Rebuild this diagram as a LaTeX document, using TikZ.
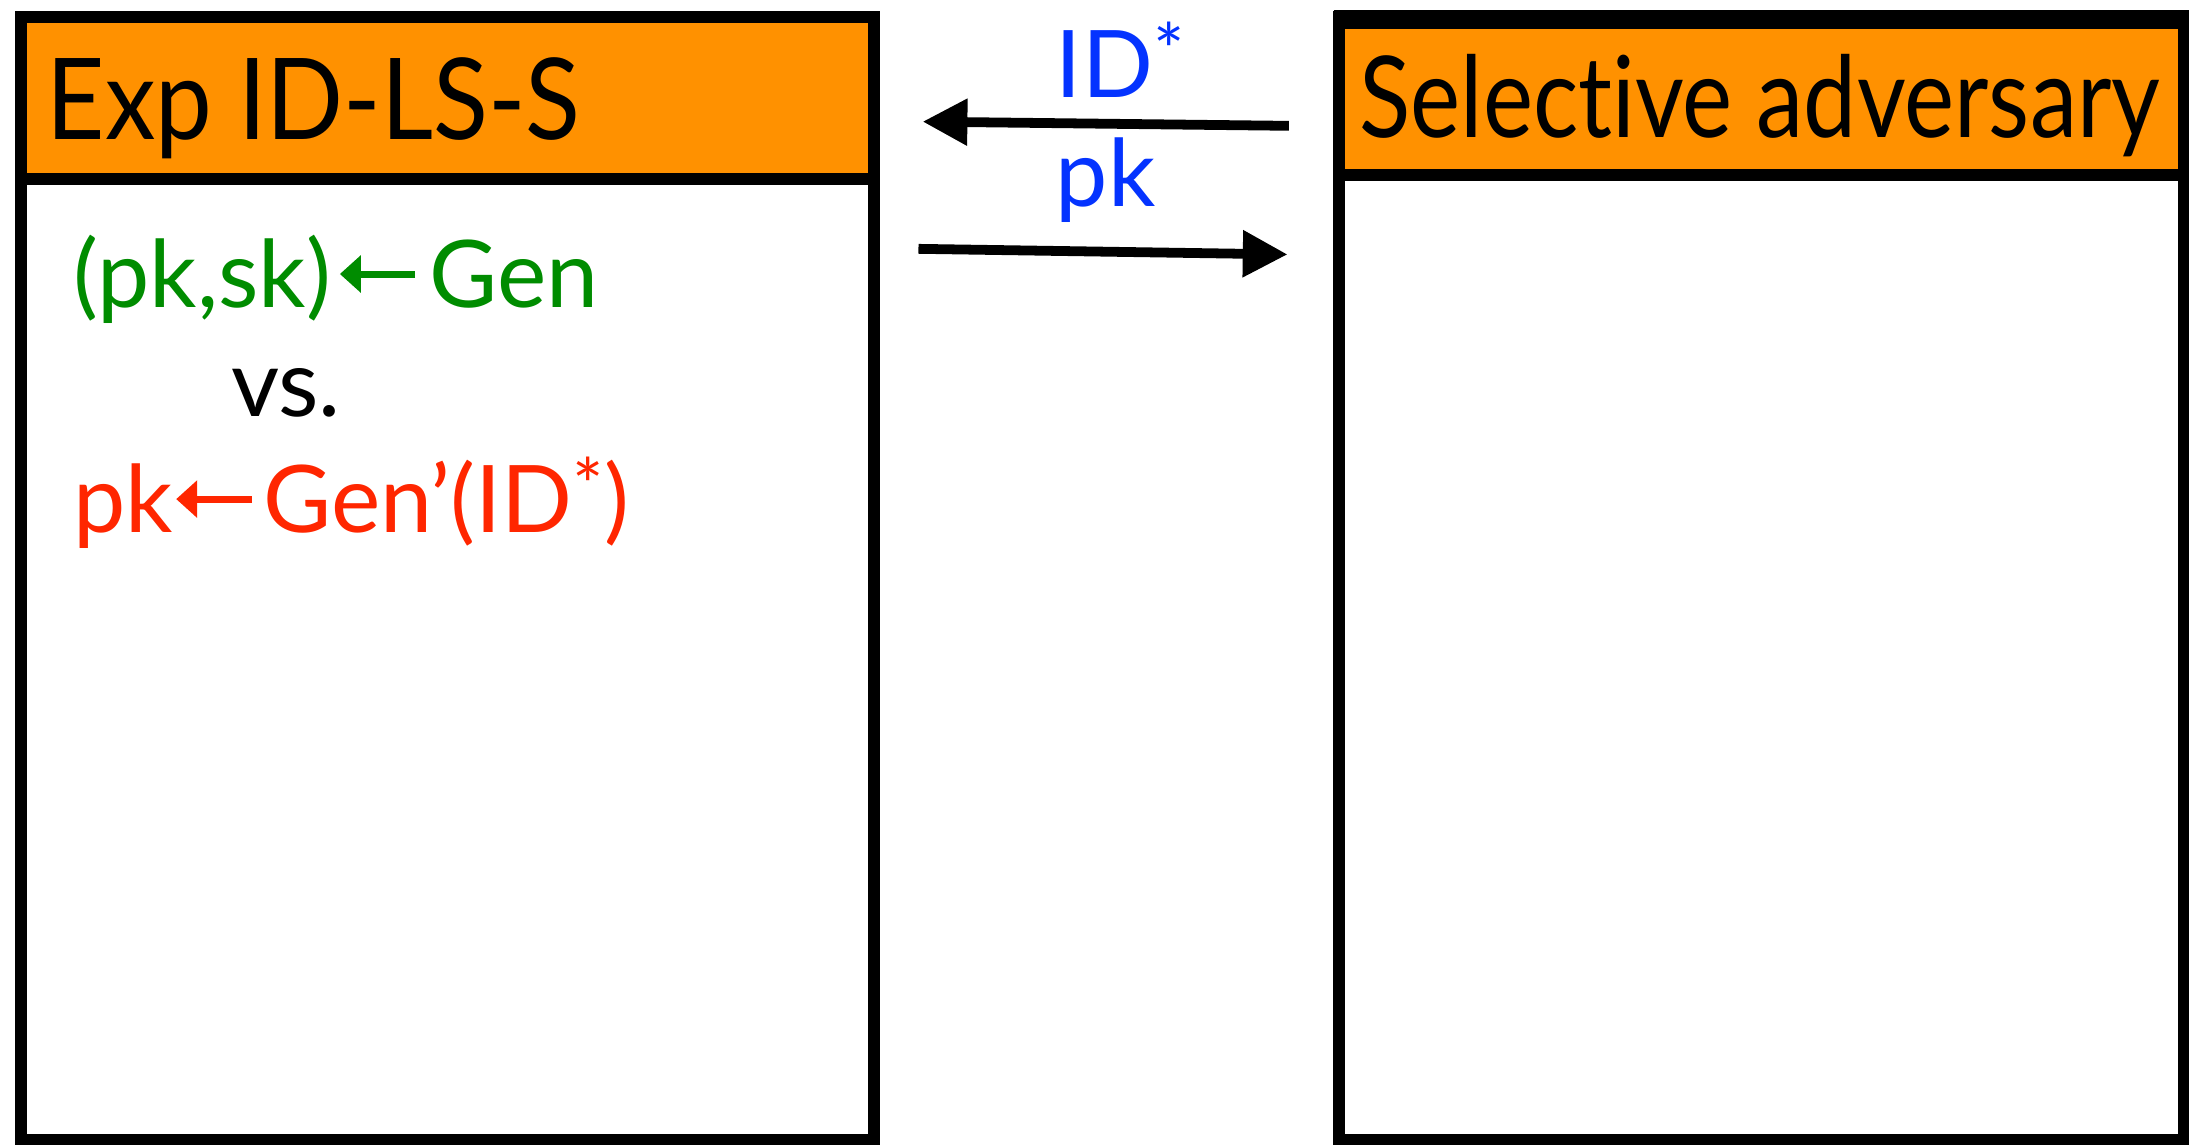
\documentclass[tikz,border=0pt]{standalone}
\usepackage{fontspec}
\setmainfont[Ligatures=NoCommon]{Lato}
\usetikzlibrary{arrows.meta}
\definecolor{hdr}{RGB}{255,145,0}
\definecolor{kgreen}{RGB}{0,140,0}
\definecolor{kblue}{RGB}{4,51,255}
\definecolor{kred}{RGB}{255,38,0}
\newcommand{\myast}{\raisebox{0.22em}{\fontsize{30}{30}\selectfont *}}
\newcommand{\fitw}[2]{\resizebox{#1}{\height}{#2}}
\begin{document}
\begin{tikzpicture}[x=0.02cm,y=-0.02cm,
  frame/.style={line width=0.165cm},
  msg/.style={line width=0.14cm,-{Triangle[length=0.64cm,width=0.64cm]}},
  small arrow/.style={line width=0.1cm,-{Triangle[length=0.3cm,width=0.52cm]}},
  title/.style={inner sep=0pt,anchor=base west,font=\fontsize{46}{50}\selectfont},
  body/.style={inner sep=0pt,anchor=base west,font=\fontsize{38}{42}\selectfont}]
\useasboundingbox (0,0) rectangle (1568,819);
% left box
\fill[hdr] (15,12) rectangle (625,128);
\draw[frame] (15,12) rectangle (625,815);
\draw[frame] (15,128) -- (625,128);
\node[title] (exp) at (33,100) {\fitw{7.64cm}{Exp ID-LS-S}};
% right box
\fill[hdr] (958,14) rectangle (1562,125);
\draw[frame] (958,12) rectangle (1562,815);
\draw[line width=0.26cm] (954,14) -- (1566,14);
\draw[frame] (958,125) -- (1562,125);
\node[title] (adv) at (972,98) {\fitw{11.46cm}{Selective adversary}};
% messages
\coordinate (a1s) at (922,90);
\coordinate (a1e) at (660,87);
\coordinate (a2s) at (657,178);
\coordinate (a2e) at (921,182);
\draw[msg] (a1s) -- (a1e);
\draw[msg] (a2s) -- (a2e);
\node[body,text=kblue] (id) at (755,70) {ID\myast};
\node[body,text=kblue] (pk) at (755,148) {pk};
% green line
\node[body,text=kgreen] (pksk) at (52,220) {(pk,sk)};
\node[body,text=kgreen] (gen) at (307,220) {Gen};
\draw[small arrow,kgreen] (gen.west|-0,196) ++(-10,0) -- ([xshift=0.12cm]pksk.east|-0,196);
% vs
\node[body] (vs) at (165,298) {vs.};
% red line
\node[body,text=kred] (pk2) at (52,381) {pk};
\node[body,text=kred] (gen2) at (188,381) {Gen’(ID\myast)};
\draw[small arrow,kred] (gen2.west|-0,357) ++(-8,0) -- ([xshift=0.04cm]pk2.east|-0,357);
\end{tikzpicture}
\end{document}
